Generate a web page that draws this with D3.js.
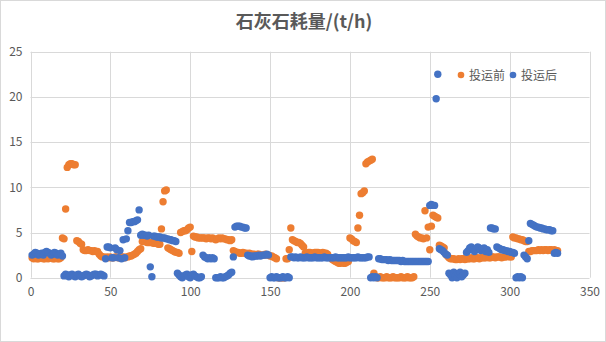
<!DOCTYPE html>
<html><head><meta charset="utf-8">
<script src="https://cdn.jsdelivr.net/npm/d3@7"></script>
<style>
html,body{margin:0;padding:0;background:#fff;}
svg{display:block;font-family:"Noto Sans CJK SC","Noto Sans",sans-serif;}
</style></head>
<body><svg id="c" width="606" height="342"></svg>
<script>
const title = "石灰石耗量/(t/h)";
const seriesNames = ["投运前", "投运后"];
const seriesColors = ["#ED7D31", "#4472C4"];
const xTicks = [0, 50, 100, 150, 200, 250, 300, 350];
const yTicks = [0, 5, 10, 15, 20, 25];

// 投运前 (x = 1..330)
const before = [
 2.2,2.1,2.2,2.1,2.1,2.2,2.2,2.1,2.1,2.2,2.1,2.2,2.2,2.1,2.1,2.2,2.1,2.1,2.2,
 4.4,4.3,7.6,12.2,12.5,12.6,12.6,12.5,12.5,4.1,4.0,3.8,3.7,
 3.1,3.0,3.0,3.1,3.0,3.0,2.9,3.0,2.9,2.9,2.6,2.4,2.3,
 2.3,2.2,2.3,2.2,2.3,2.2,2.2,2.3,2.3,2.2,2.2,2.3,2.3,2.2,2.3,2.3,2.4,2.4,2.5,2.6,2.7,2.9,
 3.1,3.2,
 4.0,4.0,4.0,3.9,3.9,3.9,3.9,3.8,3.8,3.8,3.7,3.7,
 5.4,8.4,9.6,9.7,
 3.3,3.2,3.1,3.0,2.9,2.8,2.8,2.7,
 5.0,5.1,5.2,5.2,5.3,5.5,5.6,
 2.9,
 4.6,4.5,4.5,4.4,4.4,4.4,4.4,4.4,4.3,4.4,4.4,4.3,4.4,4.3,4.2,4.3,4.4,4.3,4.4,4.3,4.3,4.2,4.2,4.1,4.2,
 3.0,2.9,
 2.8,2.8,2.7,2.7,2.8,2.7,2.7,2.6,2.7,2.6,2.6,2.6,2.5,2.6,2.6,2.5,2.5,2.5,2.6,2.5,2.5,2.4,2.4,2.3,
 2.2,2.1,
 0,0,0,0,0,
 2.1,2.1,3.1,5.5,
 4.2,4.1,4.0,3.9,3.9,3.8,3.6,3.4,
 2.7,2.7,2.8,2.8,2.7,2.7,2.8,2.8,2.8,2.7,2.7,2.8,2.7,2.7,2.6,
 2.3,2.2,2.0,1.9,1.8,
 1.7,1.6,1.6,1.7,1.6,1.6,1.7,1.8,
 4.4,4.3,4.1,4.0,3.9,
 5.5,6.9,9.3,9.4,9.6,12.6,12.8,12.9,13.0,13.1,0.5,
 0.1,0.0,0.0,0.1,0.0,0.0,0.0,0.1,0.0,0.0,0.0,0.1,0.0,0.0,0.0,0.0,0.1,0.0,0.0,0.0,0.1,0.0,0.0,0.0,0.1,
 4.8,4.6,4.5,4.4,4.4,4.3,
 7.4,4.4,5.6,3.1,5.7,6.9,6.8,6.7,6.6,
 3.6,3.5,3.4,3.3,2.6,2.4,
 2.2,2.1,2.1,2.1,2.0,2.0,2.1,2.0,2.1,2.1,
 2.0,2.1,2.1,2.1,2.2,2.1,2.1,2.2,2.2,2.1,
 2.2,2.2,2.2,2.2,2.3,2.2,2.2,2.3,2.3,2.2,
 2.3,2.3,2.3,2.2,2.3,2.3,2.3,2.4,2.3,2.3,
 4.5,4.4,4.4,4.3,4.3,4.2,4.2,4.1,4.0,4.0,
 2.9,2.9,3.0,3.0,3.0,3.0,3.1,3.0,3.1,3.0,3.1,3.1,3.0,3.1,3.1,3.0,3.1,3.0,3.0
];

// 投运后 (x = 1..330)
const after = [
 2.5,2.6,2.8,2.7,2.5,2.6,2.7,2.5,2.8,2.9,2.8,2.7,2.5,2.6,2.8,2.7,2.5,2.6,2.7,2.4,
 0.2,0.4,0.3,0.1,0.3,0.4,0.2,0.1,0.3,0.4,0.2,0.1,0.2,0.3,0.4,0.3,0.1,0.2,0.3,0.4,0.4,0.2,0.3,0.4,0.3,0.2,
 2.1,3.4,3.4,3.3,2.2,2.2,3.3,3.1,2.2,3.0,2.1,4.2,2.2,4.3,5.2,6.1,6.1,6.2,6.2,6.3,6.4,7.5,
 4.7,4.8,4.7,4.7,4.6,4.7,1.2,0.1,4.6,4.6,4.5,4.5,4.5,4.4,4.4,4.4,4.3,4.3,4.2,4.2,4.1,4.1,4.0,
 0.5,0.3,0.1,0.0,0.2,0.3,0.4,0.1,0.0,0.3,0.4,0.2,0.1,0.0,0.0,0.1,
 2.5,2.3,2.2,2.1,2.2,2.1,2.2,2.1,
 0.0,0.0,0.0,0.1,0.0,0.0,0.1,0.2,0.3,0.5,0.6,
 2.3,
 5.6,5.7,5.7,5.7,5.6,5.6,5.5,5.5,
 2.5,2.4,2.4,2.3,2.4,2.4,2.4,2.5,2.4,2.5,2.5,2.5,2.6,2.5,
 0.0,0.1,0.0,0.0,0.1,0.0,0.0,0.0,0.1,0.0,0.0,0.1,0.0,
 2.3,2.3,2.2,2.3,2.2,2.2,2.3,2.2,2.2,2.2,
 2.3,2.2,2.2,2.2,2.2,2.3,2.2,2.2,2.2,2.2,
 2.2,2.3,2.2,2.2,2.2,2.2,2.2,2.2,2.3,2.2,
 2.2,2.2,2.2,2.2,2.2,2.2,2.3,2.2,2.2,2.2,
 2.2,2.2,2.3,2.2,2.2,2.2,2.2,2.2,2.3,2.3,
 0.0,0.1,0.0,0.1,0.0,
 2.1,2.1,2.0,2.0,2.0,2.0,1.9,2.0,1.9,1.9,
 1.9,1.9,1.9,1.9,1.8,1.9,1.8,1.8,1.8,1.8,
 1.8,1.8,1.8,1.8,1.8,1.8,1.8,1.8,1.8,1.8,
 1.8,1.8,
 8.0,8.1,8.0,8.0,19.8,22.5,
 3.2,3.1,3.0,2.8,2.6,2.5,
 0.5,0.3,0.0,0.6,0.2,0.0,0.4,0.6,0.1,0.3,0.5,
 2.8,3.0,3.3,3.4,3.1,2.9,3.2,3.4,3.3,3.0,3.2,3.3,2.9,3.1,2.8,
 5.5,5.5,5.4,5.4,
 3.4,3.3,3.2,3.1,3.1,3.0,3.0,2.9,2.9,2.8,2.8,2.7,
 0.0,0.1,0.0,0.1,0.0,
 2.5,2.3,2.1,4.1,
 6.0,5.9,5.8,5.7,5.6,5.6,5.5,5.5,5.4,5.4,5.3,5.3,5.3,5.2,
 5.2,2.7,2.8,2.7
];

const W = 606, H = 342;
const svg = d3.select("#c");
const txt = "#595959", grid = "#d9d9d9";

svg.append("rect").attr("x",0.5).attr("y",0.5).attr("width",W-1).attr("height",H-1)
  .attr("fill","#fff").attr("stroke",grid);

const x = d3.scaleLinear().domain([0,350]).range([30.5,589.5]);
const y = d3.scaleLinear().domain([0,25]).range([277.7,51.7]);

// gridlines
const g = svg.append("g");
g.selectAll("line.h").data(yTicks).join("line")
  .attr("x1",x(0)).attr("x2",x(350))
  .attr("y1",d=>Math.round(y(d))+0.5).attr("y2",d=>Math.round(y(d))+0.5)
  .attr("stroke",grid).attr("stroke-width",1);
g.selectAll("line.v").data(xTicks).join("line")
  .attr("y1",y(0)).attr("y2",y(25))
  .attr("x1",d=>Math.round(x(d))+0.5).attr("x2",d=>Math.round(x(d))+0.5)
  .attr("stroke",grid).attr("stroke-width",1);

// axes labels via d3 axes
const xAxis = svg.append("g").attr("transform",`translate(0,${y(0)})`)
  .call(d3.axisBottom(x).tickValues(xTicks).tickSize(0).tickPadding(10));
const yAxis = svg.append("g").attr("transform",`translate(${x(0)},0)`)
  .call(d3.axisLeft(y).tickValues(yTicks).tickSize(0).tickPadding(8));
[xAxis,yAxis].forEach(a=>{
  a.select(".domain").remove();
  a.selectAll("text").attr("fill",txt).style("font-size","12px")
    .style("font-family","'Noto Sans CJK SC','Noto Sans',sans-serif");
});

// series
const series = [before, after];
series.forEach((vals,si)=>{
  svg.append("g").selectAll("circle").data(vals).join("circle")
    .attr("cx",(d,i)=>x(i+1)).attr("cy",d=>y(d)).attr("r",3.7)
    .attr("fill",seriesColors[si]);
});

// title
svg.append("text").attr("x",W/2+1).attr("y",28).attr("text-anchor","middle")
  .attr("fill",txt).style("font-size","18px").style("font-weight","bold")
  .text(title);

// legend
const leg = svg.append("g");
const legX = [461, 513];
seriesNames.forEach((n,i)=>{
  leg.append("circle").attr("cx",legX[i]).attr("cy",75).attr("r",3.3).attr("fill",seriesColors[i]);
  leg.append("text").attr("x",legX[i]+8).attr("y",79.5).attr("fill",txt)
    .style("font-size","12px").text(n);
});
</script></body></html>
